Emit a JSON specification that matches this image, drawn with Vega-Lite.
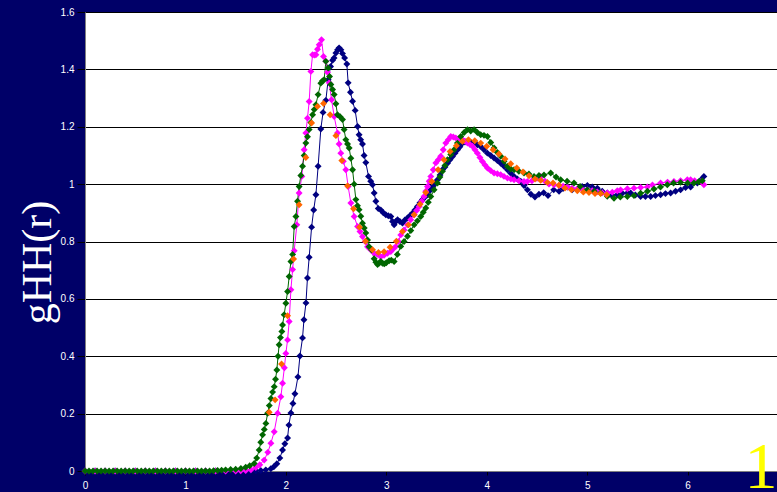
{
 "$schema": "https://vega.github.io/schema/vega-lite/v6.json",
 "width": 692,
 "height": 459,
 "autosize": {"type": "none"},
 "padding": {"left": 85, "top": 12, "right": 0, "bottom": 21},
 "background": "#000068",
 "config": {"view": {"fill": "#ffffff", "stroke": "#808080", "strokeWidth": 1}},
 "data": {"values": [
  {"s":"n","r":0,"g":0},{"s":"n","r":0.1,"g":0},{"s":"n","r":0.2,"g":0},{"s":"n","r":0.3,"g":0},{"s":"n","r":0.4,"g":0},{"s":"n","r":0.5,"g":0},{"s":"n","r":0.6,"g":0},{"s":"n","r":0.7,"g":0},{"s":"n","r":0.8,"g":0},{"s":"n","r":0.9,"g":0},{"s":"n","r":1.0,"g":0},{"s":"n","r":1.1,"g":0},{"s":"n","r":1.2,"g":0},{"s":"n","r":1.3,"g":0},{"s":"n","r":1.4,"g":0},{"s":"n","r":1.5,"g":0},{"s":"n","r":1.6,"g":0},{"s":"n","r":1.65,"g":0.001},{"s":"n","r":1.7,"g":0.001},
  {"s":"n","r":1.75,"g":0.002},{"s":"n","r":1.8,"g":0.004},{"s":"n","r":1.85,"g":0.008},{"s":"n","r":1.88,"g":0.015},{"s":"n","r":1.91,"g":0.025},{"s":"n","r":1.94,"g":0.045},{"s":"n","r":1.967,"g":0.073},{"s":"n","r":1.99,"g":0.095},{"s":"n","r":2.017,"g":0.115},{"s":"n","r":2.03,"g":0.16},{"s":"n","r":2.05,"g":0.202},{"s":"n","r":2.07,"g":0.235},{"s":"n","r":2.09,"g":0.269},{"s":"n","r":2.12,"g":0.328},{"s":"n","r":2.14,"g":0.401},{"s":"n","r":2.166,"g":0.464},{"s":"n","r":2.18,"g":0.527},{"s":"n","r":2.2,"g":0.586},{"s":"n","r":2.215,"g":0.673},{"s":"n","r":2.232,"g":0.745},{"s":"n","r":2.256,"g":0.85},{"s":"n","r":2.277,"g":0.91},{"s":"n","r":2.299,"g":0.963},{"s":"n","r":2.321,"g":1.062},{"s":"n","r":2.348,"g":1.192},{"s":"n","r":2.37,"g":1.25},{"s":"n","r":2.398,"g":1.292},{"s":"n","r":2.421,"g":1.364},{"s":"n","r":2.445,"g":1.41},{"s":"n","r":2.465,"g":1.432},{"s":"n","r":2.48,"g":1.44},{"s":"n","r":2.498,"g":1.457},{"s":"n","r":2.515,"g":1.468},{"s":"n","r":2.53,"g":1.475},{"s":"n","r":2.548,"g":1.468},{"s":"n","r":2.564,"g":1.455},{"s":"n","r":2.585,"g":1.44},{"s":"n","r":2.607,"g":1.419},{"s":"n","r":2.62,"g":1.353},{"s":"n","r":2.643,"g":1.32},{"s":"n","r":2.664,"g":1.289},{"s":"n","r":2.69,"g":1.257},{"s":"n","r":2.714,"g":1.201},{"s":"n","r":2.729,"g":1.172},{"s":"n","r":2.745,"g":1.155},{"s":"n","r":2.763,"g":1.14},{"s":"n","r":2.779,"g":1.1},{"s":"n","r":2.796,"g":1.075},{"s":"n","r":2.823,"g":1.027},{"s":"n","r":2.845,"g":1.01},{"s":"n","r":2.863,"g":0.998},{"s":"n","r":2.879,"g":0.969},{"s":"n","r":2.896,"g":0.94},{"s":"n","r":2.92,"g":0.915},{"s":"n","r":2.945,"g":0.91},{"s":"n","r":2.97,"g":0.9},{"s":"n","r":2.995,"g":0.893},{"s":"n","r":3.02,"g":0.89},{"s":"n","r":3.045,"g":0.887},{"s":"n","r":3.062,"g":0.87},{"s":"n","r":3.078,"g":0.858},{"s":"n","r":3.095,"g":0.87},{"s":"n","r":3.112,"g":0.876},{"s":"n","r":3.135,"g":0.87},{"s":"n","r":3.161,"g":0.864},{"s":"n","r":3.185,"g":0.875},{"s":"n","r":3.211,"g":0.882},{"s":"n","r":3.235,"g":0.89},{"s":"n","r":3.261,"g":0.899},{"s":"n","r":3.285,"g":0.91},{"s":"n","r":3.31,"g":0.922},{"s":"n","r":3.335,"g":0.935},{"s":"n","r":3.36,"g":0.946},{"s":"n","r":3.385,"g":0.955},{"s":"n","r":3.41,"g":0.963},{"s":"n","r":3.435,"g":0.978},{"s":"n","r":3.46,"g":0.992},{"s":"n","r":3.485,"g":1.003},{"s":"n","r":3.51,"g":1.015},{"s":"n","r":3.535,"g":1.032},{"s":"n","r":3.559,"g":1.05},{"s":"n","r":3.584,"g":1.06},{"s":"n","r":3.609,"g":1.073},{"s":"n","r":3.634,"g":1.085},{"s":"n","r":3.659,"g":1.096},{"s":"n","r":3.684,"g":1.108},{"s":"n","r":3.709,"g":1.12},{"s":"n","r":3.733,"g":1.13},{"s":"n","r":3.758,"g":1.143},{"s":"n","r":3.783,"g":1.147},{"s":"n","r":3.808,"g":1.149},{"s":"n","r":3.84,"g":1.146},{"s":"n","r":3.874,"g":1.143},{"s":"n","r":3.907,"g":1.137},{"s":"n","r":3.94,"g":1.131},{"s":"n","r":3.973,"g":1.12},{"s":"n","r":4.007,"g":1.108},{"s":"n","r":4.04,"g":1.1},{"s":"n","r":4.073,"g":1.091},{"s":"n","r":4.106,"g":1.082},{"s":"n","r":4.139,"g":1.073},{"s":"n","r":4.172,"g":1.062},{"s":"n","r":4.206,"g":1.05},{"s":"n","r":4.239,"g":1.038},{"s":"n","r":4.272,"g":1.027},{"s":"n","r":4.305,"g":1.018},{"s":"n","r":4.338,"g":1.01},{"s":"n","r":4.371,"g":0.995},{"s":"n","r":4.405,"g":0.98},{"s":"n","r":4.44,"g":0.965},{"s":"n","r":4.48,"g":0.955},{"s":"n","r":4.52,"g":0.965},{"s":"n","r":4.567,"g":0.97},{"s":"n","r":4.61,"g":0.96},{"s":"n","r":4.667,"g":0.98},{"s":"n","r":4.72,"g":0.975},{"s":"n","r":4.76,"g":0.985},{"s":"n","r":4.803,"g":0.99},{"s":"n","r":4.85,"g":0.98},{"s":"n","r":4.902,"g":0.98},{"s":"n","r":4.95,"g":0.992},{"s":"n","r":5.002,"g":0.995},{"s":"n","r":5.05,"g":0.99},{"s":"n","r":5.101,"g":0.986},{"s":"n","r":5.15,"g":0.975},{"s":"n","r":5.201,"g":0.969},{"s":"n","r":5.25,"g":0.96},{"s":"n","r":5.3,"g":0.963},{"s":"n","r":5.35,"g":0.968},{"s":"n","r":5.4,"g":0.969},{"s":"n","r":5.433,"g":0.969},{"s":"n","r":5.48,"g":0.962},{"s":"n","r":5.532,"g":0.957},{"s":"n","r":5.58,"g":0.957},{"s":"n","r":5.632,"g":0.957},{"s":"n","r":5.68,"g":0.96},{"s":"n","r":5.731,"g":0.963},{"s":"n","r":5.78,"g":0.967},{"s":"n","r":5.831,"g":0.969},{"s":"n","r":5.88,"g":0.975},{"s":"n","r":5.93,"g":0.98},{"s":"n","r":5.98,"g":0.988},{"s":"n","r":6.03,"g":0.99},{"s":"n","r":6.097,"g":1.004},{"s":"n","r":6.134,"g":1.015},{"s":"n","r":6.162,"g":1.027},

  {"s":"m","r":0,"g":0},{"s":"m","r":0.1,"g":0},{"s":"m","r":0.2,"g":0},{"s":"m","r":0.3,"g":0},{"s":"m","r":0.4,"g":0},{"s":"m","r":0.5,"g":0},{"s":"m","r":0.6,"g":0},{"s":"m","r":0.7,"g":0},{"s":"m","r":0.8,"g":0},{"s":"m","r":0.9,"g":0},{"s":"m","r":1.0,"g":0},{"s":"m","r":1.1,"g":0},{"s":"m","r":1.2,"g":0},{"s":"m","r":1.3,"g":0},{"s":"m","r":1.4,"g":0},{"s":"m","r":1.5,"g":0},
  {"s":"m","r":1.55,"g":0.001},{"s":"m","r":1.6,"g":0.002},{"s":"m","r":1.652,"g":0.004},{"s":"m","r":1.7,"g":0.012},{"s":"m","r":1.74,"g":0.022},{"s":"m","r":1.784,"g":0.038},{"s":"m","r":1.82,"g":0.065},{"s":"m","r":1.851,"g":0.097},{"s":"m","r":1.884,"g":0.137},{"s":"m","r":1.918,"g":0.201},{"s":"m","r":1.95,"g":0.259},{"s":"m","r":1.967,"g":0.306},{"s":"m","r":1.985,"g":0.36},{"s":"m","r":2.0,"g":0.41},{"s":"m","r":2.017,"g":0.457},{"s":"m","r":2.033,"g":0.521},{"s":"m","r":2.05,"g":0.632},{"s":"m","r":2.067,"g":0.702},{"s":"m","r":2.083,"g":0.768},{"s":"m","r":2.109,"g":0.858},{"s":"m","r":2.132,"g":0.969},{"s":"m","r":2.159,"g":1.027},{"s":"m","r":2.182,"g":1.12},{"s":"m","r":2.199,"g":1.178},{"s":"m","r":2.215,"g":1.23},{"s":"m","r":2.232,"g":1.288},{"s":"m","r":2.249,"g":1.393},{"s":"m","r":2.266,"g":1.451},{"s":"m","r":2.283,"g":1.45},{"s":"m","r":2.299,"g":1.451},{"s":"m","r":2.315,"g":1.47},{"s":"m","r":2.332,"g":1.486},{"s":"m","r":2.355,"g":1.503},{"s":"m","r":2.375,"g":1.445},{"s":"m","r":2.398,"g":1.428},{"s":"m","r":2.415,"g":1.39},{"s":"m","r":2.431,"g":1.353},{"s":"m","r":2.455,"g":1.294},{"s":"m","r":2.481,"g":1.236},{"s":"m","r":2.514,"g":1.178},{"s":"m","r":2.53,"g":1.14},{"s":"m","r":2.547,"g":1.108},{"s":"m","r":2.572,"g":1.08},{"s":"m","r":2.597,"g":1.05},{"s":"m","r":2.62,"g":0.992},{"s":"m","r":2.647,"g":0.934},{"s":"m","r":2.68,"g":0.887},{"s":"m","r":2.714,"g":0.852},{"s":"m","r":2.738,"g":0.835},{"s":"m","r":2.763,"g":0.817},{"s":"m","r":2.79,"g":0.8},{"s":"m","r":2.813,"g":0.782},{"s":"m","r":2.846,"g":0.77},{"s":"m","r":2.879,"g":0.759},{"s":"m","r":2.91,"g":0.755},{"s":"m","r":2.945,"g":0.747},{"s":"m","r":2.978,"g":0.752},{"s":"m","r":3.012,"g":0.759},{"s":"m","r":3.045,"g":0.765},{"s":"m","r":3.07,"g":0.775},{"s":"m","r":3.095,"g":0.783},{"s":"m","r":3.12,"g":0.8},{"s":"m","r":3.144,"g":0.823},{"s":"m","r":3.177,"g":0.84},{"s":"m","r":3.21,"g":0.858},{"s":"m","r":3.243,"g":0.876},{"s":"m","r":3.277,"g":0.893},{"s":"m","r":3.302,"g":0.908},{"s":"m","r":3.327,"g":0.922},{"s":"m","r":3.352,"g":0.94},{"s":"m","r":3.376,"g":0.957},{"s":"m","r":3.393,"g":0.975},{"s":"m","r":3.41,"g":0.992},{"s":"m","r":3.427,"g":1.01},{"s":"m","r":3.443,"g":1.027},{"s":"m","r":3.468,"g":1.05},{"s":"m","r":3.493,"g":1.074},{"s":"m","r":3.518,"g":1.085},{"s":"m","r":3.542,"g":1.097},{"s":"m","r":3.567,"g":1.12},{"s":"m","r":3.592,"g":1.143},{"s":"m","r":3.617,"g":1.155},{"s":"m","r":3.642,"g":1.166},{"s":"m","r":3.667,"g":1.164},{"s":"m","r":3.692,"g":1.161},{"s":"m","r":3.725,"g":1.158},{"s":"m","r":3.758,"g":1.155},{"s":"m","r":3.783,"g":1.15},{"s":"m","r":3.808,"g":1.143},{"s":"m","r":3.833,"g":1.138},{"s":"m","r":3.858,"g":1.132},{"s":"m","r":3.883,"g":1.12},{"s":"m","r":3.907,"g":1.108},{"s":"m","r":3.932,"g":1.093},{"s":"m","r":3.957,"g":1.079},{"s":"m","r":3.982,"g":1.067},{"s":"m","r":4.007,"g":1.056},{"s":"m","r":4.04,"g":1.047},{"s":"m","r":4.073,"g":1.039},{"s":"m","r":4.106,"g":1.036},{"s":"m","r":4.139,"g":1.033},{"s":"m","r":4.172,"g":1.027},{"s":"m","r":4.206,"g":1.021},{"s":"m","r":4.24,"g":1.018},{"s":"m","r":4.272,"g":1.015},{"s":"m","r":4.32,"g":1.012},{"s":"m","r":4.371,"g":1.009},{"s":"m","r":4.405,"g":1.009},{"s":"m","r":4.45,"g":1.012},{"s":"m","r":4.5,"g":1.02},{"s":"m","r":4.537,"g":1.027},{"s":"m","r":4.58,"g":1.01},{"s":"m","r":4.62,"g":1.0},{"s":"m","r":4.67,"g":0.998},{"s":"m","r":4.72,"g":0.995},{"s":"m","r":4.76,"g":0.993},{"s":"m","r":4.803,"g":0.99},{"s":"m","r":4.85,"g":0.986},{"s":"m","r":4.9,"g":0.983},{"s":"m","r":4.95,"g":0.981},{"s":"m","r":5.002,"g":0.98},{"s":"m","r":5.05,"g":0.977},{"s":"m","r":5.1,"g":0.973},{"s":"m","r":5.15,"g":0.97},{"s":"m","r":5.201,"g":0.969},{"s":"m","r":5.25,"g":0.972},{"s":"m","r":5.3,"g":0.977},{"s":"m","r":5.333,"g":0.98},{"s":"m","r":5.4,"g":0.984},{"s":"m","r":5.466,"g":0.986},{"s":"m","r":5.533,"g":0.988},{"s":"m","r":5.599,"g":0.99},{"s":"m","r":5.65,"g":0.997},{"s":"m","r":5.731,"g":1.004},{"s":"m","r":5.8,"g":1.007},{"s":"m","r":5.864,"g":1.009},{"s":"m","r":5.93,"g":1.012},{"s":"m","r":5.997,"g":1.015},{"s":"m","r":6.03,"g":1.015},{"s":"m","r":6.07,"g":1.012},{"s":"m","r":6.134,"g":1.009},{"s":"m","r":6.162,"g":0.998},

  {"s":"g","r":0,"g":0},{"s":"g","r":0.04,"g":0},{"s":"g","r":0.08,"g":0},{"s":"g","r":0.12,"g":0},{"s":"g","r":0.16,"g":0},{"s":"g","r":0.2,"g":0},{"s":"g","r":0.24,"g":0},{"s":"g","r":0.28,"g":0},{"s":"g","r":0.32,"g":0},{"s":"g","r":0.36,"g":0},{"s":"g","r":0.4,"g":0},{"s":"g","r":0.44,"g":0},{"s":"g","r":0.48,"g":0},{"s":"g","r":0.52,"g":0},{"s":"g","r":0.56,"g":0},{"s":"g","r":0.6,"g":0},{"s":"g","r":0.64,"g":0},{"s":"g","r":0.68,"g":0},{"s":"g","r":0.72,"g":0},{"s":"g","r":0.76,"g":0},{"s":"g","r":0.8,"g":0},{"s":"g","r":0.84,"g":0},{"s":"g","r":0.88,"g":0},{"s":"g","r":0.92,"g":0},{"s":"g","r":0.96,"g":0},{"s":"g","r":1.0,"g":0},{"s":"g","r":1.04,"g":0},{"s":"g","r":1.08,"g":0},{"s":"g","r":1.12,"g":0},{"s":"g","r":1.16,"g":0},{"s":"g","r":1.2,"g":0},{"s":"g","r":1.24,"g":0},{"s":"g","r":1.28,"g":0.001},{"s":"g","r":1.32,"g":0.002},
  {"s":"g","r":1.36,"g":0.003},{"s":"g","r":1.4,"g":0.004},{"s":"g","r":1.45,"g":0.005},{"s":"g","r":1.5,"g":0.006},{"s":"g","r":1.552,"g":0.009},{"s":"g","r":1.6,"g":0.013},{"s":"g","r":1.64,"g":0.018},{"s":"g","r":1.685,"g":0.026},{"s":"g","r":1.71,"g":0.045},{"s":"g","r":1.734,"g":0.073},{"s":"g","r":1.75,"g":0.1},{"s":"g","r":1.768,"g":0.126},{"s":"g","r":1.785,"g":0.145},{"s":"g","r":1.801,"g":0.166},{"s":"g","r":1.818,"g":0.201},{"s":"g","r":1.835,"g":0.228},{"s":"g","r":1.851,"g":0.253},{"s":"g","r":1.868,"g":0.275},{"s":"g","r":1.884,"g":0.294},{"s":"g","r":1.897,"g":0.32},{"s":"g","r":1.91,"g":0.352},{"s":"g","r":1.922,"g":0.4},{"s":"g","r":1.933,"g":0.44},{"s":"g","r":1.946,"g":0.465},{"s":"g","r":1.96,"g":0.486},{"s":"g","r":1.967,"g":0.509},{"s":"g","r":1.983,"g":0.545},{"s":"g","r":2.0,"g":0.585},{"s":"g","r":2.017,"g":0.626},{"s":"g","r":2.033,"g":0.678},{"s":"g","r":2.05,"g":0.73},{"s":"g","r":2.067,"g":0.755},{"s":"g","r":2.083,"g":0.852},{"s":"g","r":2.1,"g":0.887},{"s":"g","r":2.116,"g":0.94},{"s":"g","r":2.132,"g":0.992},{"s":"g","r":2.149,"g":1.03},{"s":"g","r":2.166,"g":1.062},{"s":"g","r":2.182,"g":1.1},{"s":"g","r":2.199,"g":1.143},{"s":"g","r":2.215,"g":1.165},{"s":"g","r":2.232,"g":1.19},{"s":"g","r":2.249,"g":1.215},{"s":"g","r":2.266,"g":1.242},{"s":"g","r":2.283,"g":1.26},{"s":"g","r":2.299,"g":1.277},{"s":"g","r":2.321,"g":1.312},{"s":"g","r":2.348,"g":1.352},{"s":"g","r":2.365,"g":1.36},{"s":"g","r":2.381,"g":1.364},{"s":"g","r":2.398,"g":1.428},{"s":"g","r":2.421,"g":1.405},{"s":"g","r":2.435,"g":1.375},{"s":"g","r":2.448,"g":1.347},{"s":"g","r":2.465,"g":1.33},{"s":"g","r":2.481,"g":1.312},{"s":"g","r":2.498,"g":1.28},{"s":"g","r":2.514,"g":1.242},{"s":"g","r":2.54,"g":1.235},{"s":"g","r":2.564,"g":1.225},{"s":"g","r":2.58,"g":1.19},{"s":"g","r":2.597,"g":1.155},{"s":"g","r":2.614,"g":1.14},{"s":"g","r":2.63,"g":1.126},{"s":"g","r":2.647,"g":1.09},{"s":"g","r":2.664,"g":1.05},{"s":"g","r":2.68,"g":1.0},{"s":"g","r":2.697,"g":0.946},{"s":"g","r":2.713,"g":0.925},{"s":"g","r":2.729,"g":0.911},{"s":"g","r":2.746,"g":0.888},{"s":"g","r":2.763,"g":0.864},{"s":"g","r":2.78,"g":0.847},{"s":"g","r":2.796,"g":0.83},{"s":"g","r":2.813,"g":0.805},{"s":"g","r":2.829,"g":0.782},{"s":"g","r":2.854,"g":0.77},{"s":"g","r":2.879,"g":0.74},{"s":"g","r":2.896,"g":0.728},{"s":"g","r":2.913,"g":0.72},{"s":"g","r":2.93,"g":0.725},{"s":"g","r":2.945,"g":0.73},{"s":"g","r":2.962,"g":0.724},{"s":"g","r":2.98,"g":0.722},{"s":"g","r":3.0,"g":0.726},{"s":"g","r":3.028,"g":0.733},{"s":"g","r":3.05,"g":0.735},{"s":"g","r":3.078,"g":0.73},{"s":"g","r":3.11,"g":0.755},{"s":"g","r":3.144,"g":0.783},{"s":"g","r":3.177,"g":0.8},{"s":"g","r":3.211,"g":0.818},{"s":"g","r":3.244,"g":0.838},{"s":"g","r":3.277,"g":0.858},{"s":"g","r":3.31,"g":0.872},{"s":"g","r":3.343,"g":0.887},{"s":"g","r":3.368,"g":0.902},{"s":"g","r":3.393,"g":0.917},{"s":"g","r":3.418,"g":0.937},{"s":"g","r":3.443,"g":0.957},{"s":"g","r":3.476,"g":0.98},{"s":"g","r":3.509,"g":1.004},{"s":"g","r":3.534,"g":1.025},{"s":"g","r":3.559,"g":1.045},{"s":"g","r":3.584,"g":1.065},{"s":"g","r":3.609,"g":1.085},{"s":"g","r":3.642,"g":1.103},{"s":"g","r":3.675,"g":1.12},{"s":"g","r":3.708,"g":1.143},{"s":"g","r":3.741,"g":1.166},{"s":"g","r":3.775,"g":1.18},{"s":"g","r":3.808,"g":1.19},{"s":"g","r":3.84,"g":1.185},{"s":"g","r":3.874,"g":1.19},{"s":"g","r":3.907,"g":1.18},{"s":"g","r":3.94,"g":1.172},{"s":"g","r":3.973,"g":1.17},{"s":"g","r":4.007,"g":1.166},{"s":"g","r":4.04,"g":1.145},{"s":"g","r":4.073,"g":1.126},{"s":"g","r":4.106,"g":1.11},{"s":"g","r":4.139,"g":1.097},{"s":"g","r":4.172,"g":1.08},{"s":"g","r":4.206,"g":1.062},{"s":"g","r":4.239,"g":1.053},{"s":"g","r":4.272,"g":1.05},{"s":"g","r":4.32,"g":1.045},{"s":"g","r":4.371,"g":1.039},{"s":"g","r":4.42,"g":1.035},{"s":"g","r":4.471,"g":1.027},{"s":"g","r":4.52,"g":1.03},{"s":"g","r":4.57,"g":1.032},{"s":"g","r":4.637,"g":1.039},{"s":"g","r":4.69,"g":1.025},{"s":"g","r":4.736,"g":1.015},{"s":"g","r":4.8,"g":1.01},{"s":"g","r":4.869,"g":1.004},{"s":"g","r":4.93,"g":0.992},{"s":"g","r":5.002,"g":0.98},{"s":"g","r":5.07,"g":0.975},{"s":"g","r":5.134,"g":0.969},{"s":"g","r":5.2,"g":0.958},{"s":"g","r":5.267,"g":0.951},{"s":"g","r":5.33,"g":0.955},{"s":"g","r":5.4,"g":0.957},{"s":"g","r":5.466,"g":0.96},{"s":"g","r":5.532,"g":0.968},{"s":"g","r":5.6,"g":0.975},{"s":"g","r":5.665,"g":0.983},{"s":"g","r":5.73,"g":0.99},{"s":"g","r":5.798,"g":0.998},{"s":"g","r":5.86,"g":1.004},{"s":"g","r":5.93,"g":1.006},{"s":"g","r":6.0,"g":1.004},{"s":"g","r":6.063,"g":1.004},{"s":"g","r":6.11,"g":1.008},{"s":"g","r":6.146,"g":1.012},

  {"s":"o","r":1.834,"g":0.205},{"s":"o","r":1.893,"g":0.248},{"s":"o","r":1.957,"g":0.373},{"s":"o","r":2.017,"g":0.541},{"s":"o","r":2.077,"g":0.739},{"s":"o","r":2.132,"g":0.928},{"s":"o","r":2.199,"g":1.093},{"s":"o","r":2.256,"g":1.213},{"s":"o","r":2.315,"g":1.271},{"s":"o","r":2.375,"g":1.281},{"s":"o","r":2.441,"g":1.242},{"s":"o","r":2.498,"g":1.169},{"s":"o","r":2.557,"g":1.082},{"s":"o","r":2.614,"g":0.994},{"s":"o","r":2.674,"g":0.914},{"s":"o","r":2.733,"g":0.85},{"s":"o","r":2.793,"g":0.801},{"s":"o","r":2.863,"g":0.771},{"s":"o","r":2.922,"g":0.762},{"s":"o","r":2.978,"g":0.764},{"s":"o","r":3.038,"g":0.78},{"s":"o","r":3.1,"g":0.801},{"s":"o","r":3.161,"g":0.835},{"s":"o","r":3.221,"g":0.858},{"s":"o","r":3.277,"g":0.893},{"s":"o","r":3.336,"g":0.93},{"s":"o","r":3.393,"g":0.971},{"s":"o","r":3.453,"g":1.009},{"s":"o","r":3.516,"g":1.05},{"s":"o","r":3.575,"g":1.085},{"s":"o","r":3.635,"g":1.114},{"s":"o","r":3.698,"g":1.134},{"s":"o","r":3.758,"g":1.149},{"s":"o","r":3.818,"g":1.155},{"s":"o","r":3.881,"g":1.151},{"s":"o","r":3.94,"g":1.143},{"s":"o","r":4.0,"g":1.132},{"s":"o","r":4.063,"g":1.12},{"s":"o","r":4.122,"g":1.105},{"s":"o","r":4.182,"g":1.088},{"s":"o","r":4.239,"g":1.071},{"s":"o","r":4.299,"g":1.056},{"s":"o","r":4.361,"g":1.042},{"s":"o","r":4.421,"g":1.029},{"s":"o","r":4.481,"g":1.018},{"s":"o","r":4.537,"g":1.013},{"s":"o","r":4.604,"g":1.006},{"s":"o","r":4.66,"g":1.004},{"s":"o","r":4.719,"g":0.996},{"s":"o","r":4.779,"g":0.986},{"s":"o","r":4.843,"g":0.98},{"s":"o","r":4.902,"g":0.977},{"s":"o","r":4.962,"g":0.972},{"s":"o","r":5.018,"g":0.971},{"s":"o","r":5.078,"g":0.967},{"s":"o","r":5.134,"g":0.967},{"s":"o","r":5.194,"g":0.963}
 ]},
 "encoding": {
  "x": {"field": "r", "type": "quantitative",
   "scale": {"domain": [0, 6.89], "nice": false, "zero": false},
   "axis": {"values": [0,1,2,3,4,5,6], "grid": false, "domainColor": "#808080", "tickColor": "#000000", "tickSize": 4,
    "labelColor": "#ffffff", "labelFont": "Liberation Sans", "labelFontSize": 10, "labelPadding": 5, "labelFlush": false,
    "title": "1", "titleFont": "Liberation Serif", "titleFontSize": 66, "titleFontWeight": "normal", "titleColor": "#ffff00",
    "titleX": 692, "titleY": 16, "titleAlign": "right", "titleBaseline": "alphabetic"}},
  "y": {"field": "g", "type": "quantitative",
   "scale": {"domain": [0, 1.6], "nice": false},
   "axis": {"values": [0,0.2,0.4,0.6,0.8,1,1.2,1.4,1.6], "format": "~g", "grid": true, "gridColor": "#000000", "gridWidth": 1,
    "domainColor": "#808080", "tickColor": "#000000", "tickSize": 8,
    "labelColor": "#ffffff", "labelFont": "Liberation Sans", "labelFontSize": 10, "labelPadding": 3, "labelFlush": false,
    "title": "gHH(r)", "titleFont": "Liberation Serif", "titleFontSize": 42, "titleFontWeight": "normal", "titleColor": "#ffffff",
    "titleX": -48, "titleY": 250, "titleAngle": -90, "titleAlign": "center", "titleBaseline": "middle"}},
  "color": {"field": "s", "type": "nominal",
   "scale": {"domain": ["n","m","g","o"], "range": ["#000080","#ff00ff","#006600","#ff6600"]}, "legend": null}
 },
 "layer": [
  {"transform": [{"filter": "datum.s != 'o'"}], "mark": {"type": "line", "strokeWidth": 1}},
  {"mark": {"type": "point", "shape": "diamond", "filled": true, "size": 48, "opacity": 1}}
 ]
}
